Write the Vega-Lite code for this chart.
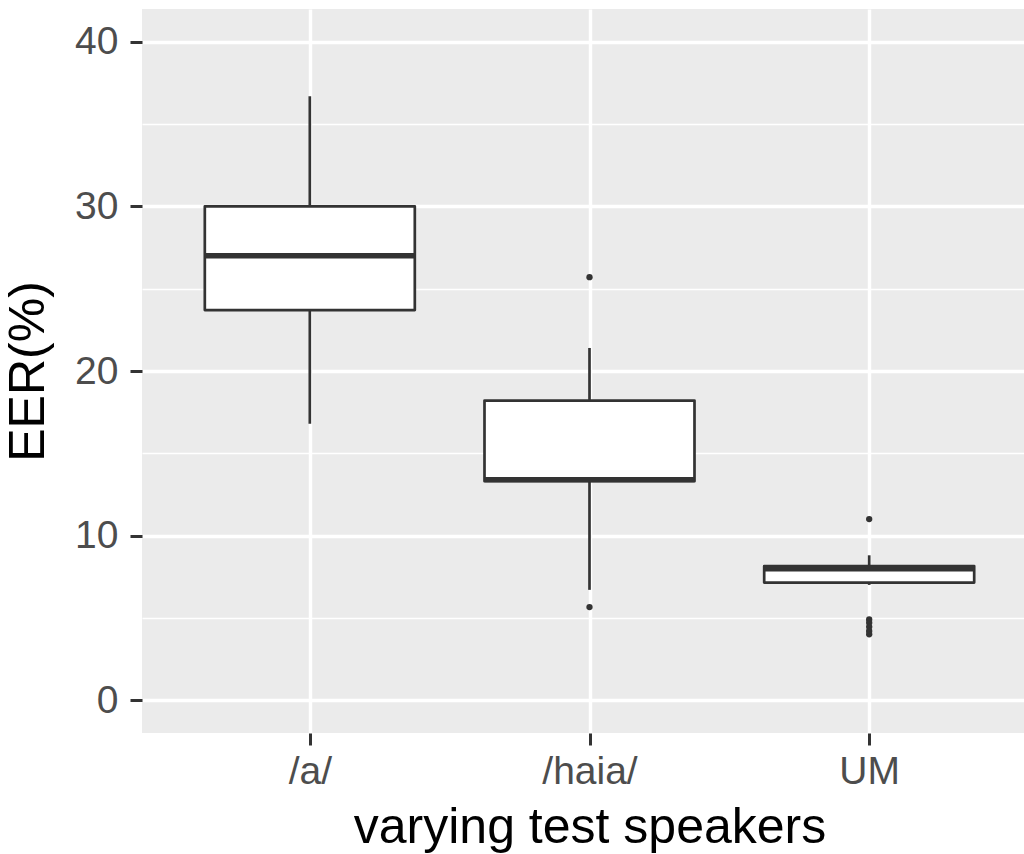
{
  "$schema": "https://vega.github.io/schema/vega-lite/v6.json",
  "width": 895,
  "height": 724,
  "autosize": {"type": "none"},
  "padding": {"left": 142, "top": 9, "right": 0, "bottom": 121},
  "background": "white",
  "config": {
    "view": {"fill": "#EBEBEB", "stroke": null},
    "font": "Liberation Sans",
    "axis": {
      "domain": false,
      "gridColor": "white",
      "gridWidth": 3.4,
      "tickColor": "#333333",
      "tickWidth": 3,
      "tickSize": 12,
      "labelColor": "#4D4D4D",
      "labelFont": "Liberation Sans",
      "labelFontSize": 39,
      "titleFont": "Liberation Sans",
      "titleFontSize": 50,
      "titleFontWeight": "normal",
      "titleColor": "black"
    }
  },
  "datasets": {
    "boxes": [
      {"speakers": "/a/", "lower": 16.8, "q1": 23.7, "median": 27.0, "q3": 30.0, "upper": 36.7},
      {"speakers": "/haia/", "lower": 6.7, "q1": 13.3, "median": 13.4, "q3": 18.2, "upper": 21.4},
      {"speakers": "UM", "lower": 7.0, "q1": 7.14, "median": 7.98, "q3": 8.15, "upper": 8.8}
    ],
    "outliers": [
      {"speakers": "/haia/", "eer": 25.7},
      {"speakers": "/haia/", "eer": 5.65},
      {"speakers": "UM", "eer": 11.0},
      {"speakers": "UM", "eer": 4.9},
      {"speakers": "UM", "eer": 4.7},
      {"speakers": "UM", "eer": 4.45},
      {"speakers": "UM", "eer": 4.2},
      {"speakers": "UM", "eer": 4.0}
    ]
  },
  "encoding": {
    "x": {
      "field": "speakers",
      "type": "nominal",
      "sort": ["/a/", "/haia/", "UM"],
      "scale": {"type": "point", "padding": 0.6},
      "axis": {
        "title": "varying test speakers",
        "grid": true,
        "labelAngle": 0,
        "labelPadding": 7,
        "titlePadding": 11
      }
    }
  },
  "layer": [
    {
      "data": {"name": "boxes"},
      "mark": {"type": "rule", "color": "#333333", "strokeWidth": 2.7},
      "encoding": {
        "y": {
          "field": "lower",
          "type": "quantitative",
          "scale": {"domain": [-2, 42], "nice": false, "zero": false},
          "axis": {
            "title": "EER(%)",
            "values": [0, 10, 20, 30, 40],
            "labelPadding": 12,
            "titlePadding": 21
          }
        },
        "y2": {"field": "upper"}
      }
    },
    {
      "data": {"name": "boxes"},
      "mark": {"type": "bar", "size": 210, "fill": "white", "stroke": "#333333", "strokeWidth": 2.7, "strokeJoin": "round"},
      "encoding": {
        "y": {"field": "q1", "type": "quantitative"},
        "y2": {"field": "q3"}
      }
    },
    {
      "data": {"name": "boxes"},
      "mark": {"type": "tick", "size": 210, "thickness": 5.4, "color": "#333333", "opacity": 1},
      "encoding": {
        "y": {"field": "median", "type": "quantitative"}
      }
    },
    {
      "data": {"name": "outliers"},
      "mark": {"type": "point", "filled": true, "size": 40, "color": "#333333", "opacity": 1},
      "encoding": {
        "y": {
          "field": "eer",
          "type": "quantitative",
          "axis": {
            "orient": "left",
            "values": [5, 15, 25, 35],
            "grid": true,
            "gridWidth": 1.7,
            "labels": false,
            "ticks": false,
            "title": null,
            "minExtent": 0,
            "maxExtent": 0
          }
        }
      }
    }
  ],
  "resolve": {"axis": {"y": "independent"}}
}
